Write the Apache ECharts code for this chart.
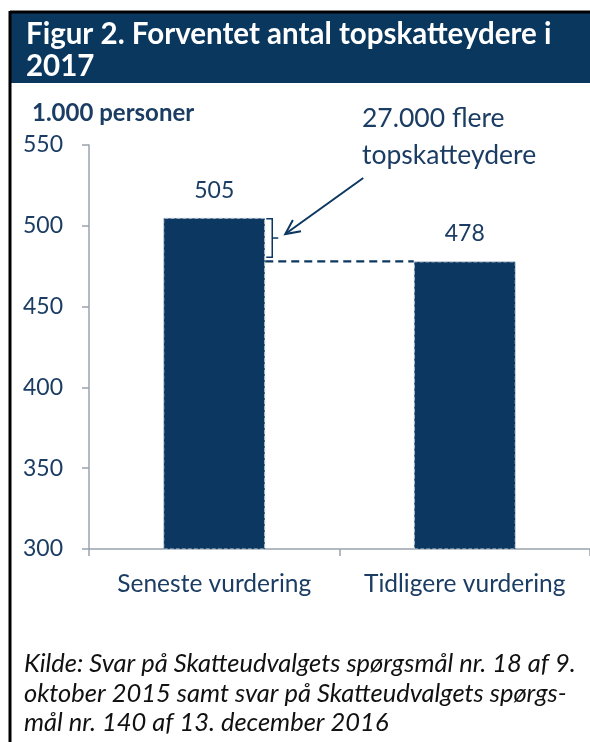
<!DOCTYPE html>
<html><head><meta charset="utf-8">
<script src="https://cdn.jsdelivr.net/npm/echarts@6/dist/echarts.min.js"></script>
<style>html,body{margin:0;padding:0;background:#fff}#c{width:590px;height:742px}</style>
</head><body><div id="c"></div>
<script>
const categories = ['Seneste vurdering', 'Tidligere vurdering'];
const values = [505, 478];
const yMin = 300, yMax = 550, yStep = 50;
const titleLines = ['Figur 2. Forventet antal topskatteydere i', '2017'];
const unitLabel = '1.000 personer';
const noteLines = ['27.000 flere', 'topskatteydere'];
const sourceLines = [
  'Kilde: Svar på Skatteudvalgets spørgsmål nr. 18 af 9.',
  'oktober 2015 samt svar på Skatteudvalgets spørgs-',
  'mål nr. 140 af 13. december 2016'
];

(function () {
const NAVY = '#0b3760';
const TXT = '#1b3d63';
const FONT = 'Lato, "Open Sans", sans-serif';
const BARW = 102;

const chart = echarts.init(document.getElementById('c'), null, {renderer: 'canvas'});
chart.setOption({
  animation: false,
  backgroundColor: '#fff',
  grid: {left: 89, right: 0, top: 145, bottom: 193, containLabel: false},
  xAxis: {
    type: 'category', data: categories, boundaryGap: true,
    axisLine: {lineStyle: {color: '#9aa3ad', width: 1.5}},
    axisTick: {show: true, length: 7, lineStyle: {color: '#9aa3ad', width: 1.5}},
    axisLabel: {color: TXT, fontFamily: FONT, fontSize: 24.5, margin: 23, interval: 0}
  },
  yAxis: {
    type: 'value', min: yMin, max: yMax, interval: yStep,
    axisLine: {show: true, lineStyle: {color: '#9aa3ad', width: 1.5}},
    axisTick: {show: true, length: 7, lineStyle: {color: '#9aa3ad', width: 1.5}},
    splitLine: {show: false},
    axisLabel: {color: TXT, fontFamily: FONT, fontSize: 23, margin: 26}
  },
  series: [{
    type: 'bar', data: values, barWidth: BARW,
    itemStyle: {color: NAVY, borderColor: '#c9d2dc', borderWidth: 1, borderType: 'dashed'},
    label: {show: true, position: 'top', distance: 16, color: TXT, fontFamily: FONT, fontSize: 23}
  }]
});

const p1 = chart.convertToPixel({seriesIndex: 0}, [0, values[0]]);
const p2 = chart.convertToPixel({seriesIndex: 0}, [1, values[1]]);
const half = BARW / 2;
const bx = p1[0] + half + 7;
const yTop = p1[1] + 1, yBot = p2[1] - 4, yMid = (yTop + yBot) / 2;
const tip = [bx + 13, yMid - 4];
const start = [tip[0] + 78, tip[1] - 56];
const dx = start[0] - tip[0], dy = start[1] - tip[1];
const L = Math.hypot(dx, dy), ux = dx / L, uy = dy / L;
const hl = 16, ang = 0.45;
function rot(x, y, a) { return [x * Math.cos(a) - y * Math.sin(a), x * Math.sin(a) + y * Math.cos(a)]; }
const h1 = rot(ux, uy, ang), h2 = rot(ux, uy, -ang);

const graphics = [
  {type: 'rect', shape: {x: 10, y: 12, width: 580, height: 71}, style: {fill: '#0a375e'}, z: 1},
  {type: 'line', shape: {x1: 10, y1: 12, x2: 590, y2: 12}, style: {stroke: '#000', lineWidth: 3}, z: 2},
  {type: 'line', shape: {x1: 10, y1: 11, x2: 10, y2: 742}, style: {stroke: '#000', lineWidth: 3}, z: 2},
  {type: 'text', x: 26, y: 34, style: {text: titleLines[0], fill: '#fff', font: 'bold 29.5px ' + FONT, textVerticalAlign: 'middle'}, z: 3},
  {type: 'text', x: 26, y: 66, style: {text: titleLines[1], fill: '#fff', font: 'bold 29.5px ' + FONT, textVerticalAlign: 'middle'}, z: 3},
  {type: 'text', x: 32, y: 113, style: {text: unitLabel, fill: TXT, font: 'bold 24px ' + FONT, textVerticalAlign: 'middle'}},
  {type: 'text', x: 362, y: 118, style: {text: noteLines[0], fill: TXT, font: '26.5px ' + FONT, textVerticalAlign: 'middle'}},
  {type: 'text', x: 362, y: 155, style: {text: noteLines[1], fill: TXT, font: '26.5px ' + FONT, textVerticalAlign: 'middle'}},
  {type: 'line', shape: {x1: p1[0] + half, y1: p2[1], x2: p2[0] - half, y2: p2[1]}, style: {stroke: NAVY, lineWidth: 2.2, lineDash: [8, 5]}, z: 5},
  {type: 'polyline', shape: {points: [[bx - 6, yTop], [bx, yTop], [bx, yBot], [bx - 6, yBot]]}, style: {stroke: NAVY, lineWidth: 1.5, fill: null}, z: 5},
  {type: 'line', shape: {x1: bx, y1: yMid, x2: bx + 6, y2: yMid}, style: {stroke: NAVY, lineWidth: 1.5}, z: 5},
  {type: 'line', shape: {x1: start[0], y1: start[1], x2: tip[0], y2: tip[1]}, style: {stroke: NAVY, lineWidth: 2}, z: 5},
  {type: 'polyline', shape: {points: [[tip[0] + h1[0] * hl, tip[1] + h1[1] * hl], tip, [tip[0] + h2[0] * hl, tip[1] + h2[1] * hl]]}, style: {stroke: NAVY, lineWidth: 2, fill: null}, z: 5}
];
sourceLines.forEach((t, i) => graphics.push({type: 'text', x: 24, y: 664 + i * 29.5, style: {text: t, fill: '#111', font: 'italic 25.5px ' + FONT, textVerticalAlign: 'middle'}}));
chart.setOption({graphic: graphics});
})();
</script></body></html>
